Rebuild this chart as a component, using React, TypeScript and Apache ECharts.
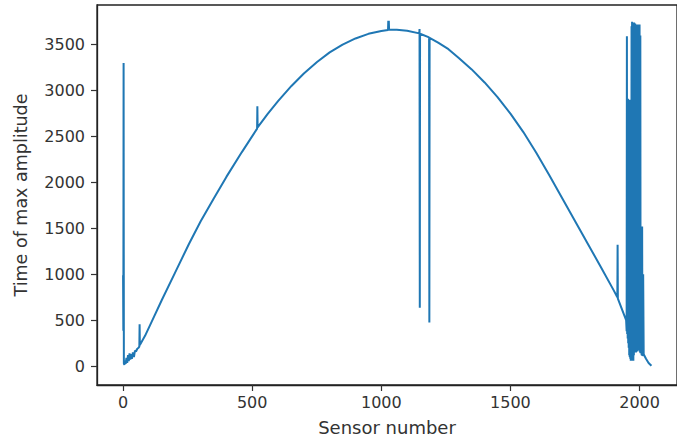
import React, { useEffect, useRef } from "react";
import * as echarts from "echarts";

// Sensor numbers (x) and time of max amplitude (y)
const sensorNumber = [
  0, 1, 2, 3, 5, 8, 10, 13, 16, 19, 22, 25, 28, 31, 34, 38, 42, 46, 50, 55, 60, 63, 64, 65,
  85, 110, 150, 200, 255, 300, 350, 400, 460, 519, 520, 521, 560, 600, 652, 700, 751, 800, 850, 900,
  950, 1000, 1026, 1027, 1028, 1029, 1030, 1060, 1100, 1147, 1148, 1149, 1150, 1185, 1186, 1187,
  1220, 1260, 1300, 1350, 1400, 1450, 1500, 1550, 1600, 1650, 1700, 1750, 1800, 1850, 1900,
  1914, 1915, 1916, 1948,
  1950, 1951, 1952, 1953, 1954, 1955, 1956, 1957, 1958, 1959, 1960, 1961, 1962, 1963, 1964,
  1965, 1966, 1967, 1968, 1969, 1970, 1971, 1972, 1973, 1974, 1975, 1976, 1977, 1978, 1979,
  1980, 1981, 1982, 1983, 1984, 1985, 1986, 1987, 1988, 1989, 1990, 1991, 1992, 1993, 1994,
  1996, 1998, 2000, 2002, 2003, 2004, 2006, 2008, 2010, 2011, 2012, 2014, 2016, 2025, 2035, 2046,
];
const maxTime = [
  990, 385, 3300, 30, 15, 60, 25, 90, 35, 120, 55, 140, 70, 130, 80, 150, 100, 170, 160, 190, 200, 215, 455, 230,
  330, 480, 720, 1010, 1330, 1575, 1820, 2060, 2330, 2585, 2830, 2600, 2745, 2885, 3050, 3185, 3310, 3415, 3500, 3567,
  3617, 3648, 3660, 3760, 3690, 3760, 3661, 3662, 3650, 3622, 3670, 637, 3618, 3578, 475, 3574,
  3522, 3450, 3355, 3230, 3088, 2928, 2748, 2548, 2322, 2080, 1830, 1580, 1330, 1080, 825,
  750, 1322, 735, 500,
  380, 3590, 350, 2900, 300, 2910, 250, 2880, 200, 2900, 120, 2850, 100, 2900, 80,
  2870, 60, 2900, 150, 3700, 80, 3750, 60, 3720, 100, 3740, 60, 2900, 120, 3740,
  150, 3100, 200, 3730, 180, 2800, 150, 3720, 200, 1800, 180, 3700, 160, 3720, 190,
  3650, 170, 3720, 150, 3600, 140, 900, 120, 1520, 110, 150, 1000, 130, 80, 35, 5,
];

const xTicks = [0, 500, 1000, 1500, 2000];
const yTicks = [0, 500, 1000, 1500, 2000, 2500, 3000, 3500];

export default function App() {
  const ref = useRef<HTMLDivElement>(null);
  useEffect(() => {
    if (!ref.current) return;
    const chart = echarts.init(ref.current, undefined, { renderer: "svg" });
    const data = sensorNumber.map((x, i) => [x, maxTime[i]]);
    const font = "'DejaVu Sans', sans-serif";
    chart.setOption({
      animation: false,
      backgroundColor: "#ffffff",
      grid: {
        left: 97,
        top: 5,
        bottom: 53,
        right: -6,
        show: true,
        borderColor: "#222",
        borderWidth: 1.3,
        containLabel: false,
      },
      xAxis: {
        type: "value",
        min: -101,
        max: 2145,
        splitLine: { show: false },
        axisLine: { show: true, onZero: false, lineStyle: { color: "#222", width: 1.3 } },
        axisTick: { show: true, length: 6, lineStyle: { color: "#333", width: 1.2 }, customValues: xTicks },
        axisLabel: {
          customValues: xTicks,
          formatter: (v: number) => String(v),
          color: "#333",
          fontSize: 16,
          fontFamily: font,
          margin: 9,
        },
        name: "Sensor number",
        nameLocation: "middle",
        nameGap: 33,
        nameTextStyle: { color: "#333", fontSize: 18, fontFamily: font },
      },
      yAxis: {
        type: "value",
        min: -205,
        max: 3931,
        splitLine: { show: false },
        axisLine: { show: true, onZero: false, lineStyle: { color: "#222", width: 1.3 } },
        axisTick: { show: true, length: 6, lineStyle: { color: "#333", width: 1.2 }, customValues: yTicks },
        axisLabel: {
          customValues: yTicks,
          formatter: (v: number) => String(v),
          color: "#333",
          fontSize: 16,
          fontFamily: font,
          margin: 12,
        },
        name: "Time of max amplitude",
        nameLocation: "middle",
        nameGap: 67,
        nameTextStyle: { color: "#333", fontSize: 17.5, fontFamily: font },
      },
      series: [
        {
          type: "line",
          data,
          showSymbol: false,
          symbol: "none",
          lineStyle: { color: "#1f77b4", width: 2 },
          clip: true,
        },
      ],
    });
    return () => chart.dispose();
  }, []);
  return (
    <div
      ref={ref}
      style={{ position: "absolute", left: 0, top: 0, width: 677, height: 441 }}
    />
  );
}
